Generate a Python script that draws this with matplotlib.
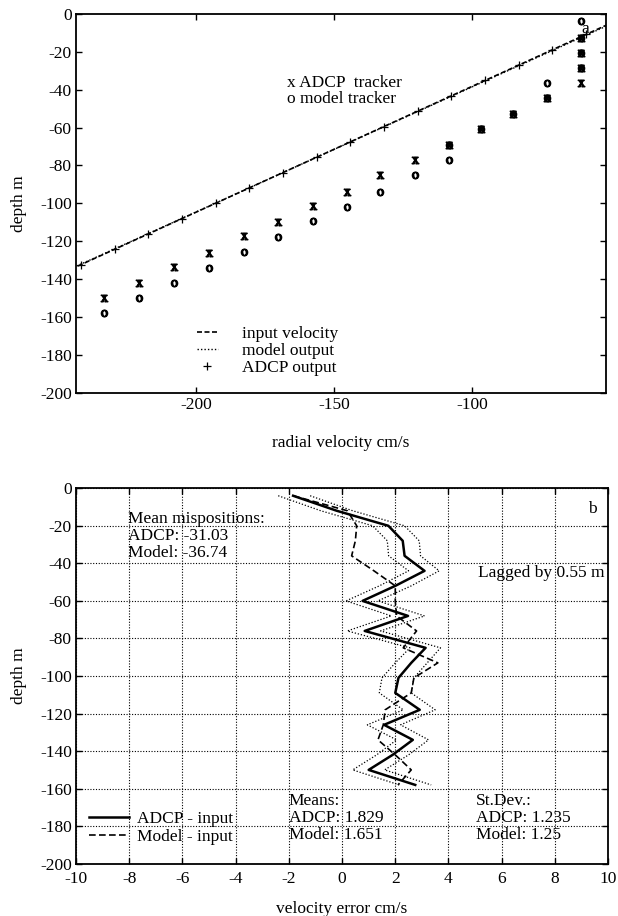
import matplotlib
matplotlib.use("Agg")
import matplotlib.pyplot as plt

plt.rcParams['font.family'] = 'serif'
plt.rcParams['font.serif'] = ['Liberation Serif', 'DejaVu Serif']
plt.rcParams['mathtext.fontset'] = 'stix'
plt.rcParams['axes.unicode_minus'] = False

# ---- panel a: radial velocity vs depth ----
input_vel = [-48.3, -245.0]
input_depth = [-4.0, -134.5]
model_vel = [-48.0, -245.0]
model_depth = [-4.3, -134.2]
adcp_vel = [-241.7, -229.5, -217.3, -205.1, -192.9, -180.7, -168.5, -156.3,
            -144.1, -131.9, -119.7, -107.5, -95.3, -83.1, -70.9, -58.7]
adcp_depth = [-132.4, -124.3, -116.2, -108.1, -100.0, -91.9, -83.8, -75.7,
              -67.6, -59.5, -51.4, -43.3, -35.2, -27.1, -19.0, -10.9]

# tracker positions (x = ADCP tracker, o = model tracker)
xtrk_vel = [-233.3, -220.7, -208.0, -195.2, -182.6, -170.2, -157.6, -145.4, -133.3,
            -120.7, -108.3, -96.7, -85.1, -72.9, -60.5, -60.5, -60.5, -60.5]
xtrk_depth = [-150.0, -141.8, -133.7, -126.0, -117.2, -109.6, -101.5, -93.8, -85.3,
              -77.4, -69.1, -60.9, -52.9, -44.5, -12.8, -20.8, -28.7, -36.6]
otrk_vel = [-233.3, -220.7, -208.0, -195.2, -182.6, -170.2, -157.6, -145.4, -133.3, -120.7,
            -108.3, -108.3, -96.7, -85.1, -72.9, -72.9, -60.5, -60.5, -60.5, -60.5]
otrk_depth = [-158.0, -150.0, -141.8, -133.9, -125.8, -117.5, -109.2, -101.7, -93.8, -85.3,
              -77.4, -69.1, -60.9, -52.9, -44.5, -36.6, -28.7, -20.8, -12.8, -4.0]

# ---- panel b: velocity error vs depth ----
err_depth = [-4, -12, -20, -28, -36, -44, -52, -60, -68, -76,
             -85, -93, -101, -109, -118, -126, -134, -142, -150, -158]
adcp_err = [-1.84, -0.2, 1.74, 2.28, 2.35, 3.1, 2.0, 0.77, 2.48, 0.85,
            3.14, 2.6, 2.12, 2.0, 2.92, 1.58, 2.66, 1.9, 1.0, 2.75]
model_err = [-1.84, 0.2, 0.55, 0.5, 0.36, 1.2, 2.0, 2.0, 2.05, 2.8,
             2.3, 3.6, 2.7, 2.6, 1.62, 1.55, 1.35, 2.0, 2.6, 2.1]
err_lo = [-2.4, -0.8, 1.15, 1.7, 1.75, 2.5, 1.4, 0.15, 1.85, 0.2,
          2.55, 2.0, 1.5, 1.4, 2.3, 0.95, 2.05, 1.3, 0.4, 2.15]
err_hi = [-1.2, 0.4, 2.35, 2.9, 2.95, 3.65, 2.6, 1.35, 3.1, 1.45,
          3.7, 3.2, 2.7, 2.6, 3.5, 2.2, 3.25, 2.5, 1.6, 3.35]

FS = 12.5
DOT = (0, (1, 1.5))

fig = plt.figure(figsize=(6.18, 9.16), dpi=100)
ax1 = fig.add_axes([0.123, 0.571, 0.858, 0.414])
ax2 = fig.add_axes([0.123, 0.057, 0.861, 0.410])

def style(ax):
    for s in ax.spines.values():
        s.set_linewidth(1.3)
    ax.tick_params(direction='in', top=True, right=True, length=4, width=1.0,
                   labelsize=FS, pad=3)

# panel a
ax1.plot(input_vel, input_depth, color='k', lw=1.2, ls=(0, (3, 1.5)), label='input velocity')
ax1.plot(model_vel, model_depth, color='k', lw=1.0, ls=DOT, label='model output')
ax1.plot(adcp_vel, adcp_depth, ls='none', marker='+', ms=6, mew=0.9, color='k', label='ADCP output')
ax1.plot(xtrk_vel, xtrk_depth, ls='none', marker=r'$\mathrm{x}$', ms=4.8, color='k')
ax1.plot(otrk_vel, otrk_depth, ls='none', marker=r'$\mathrm{o}$', ms=4.8, color='k')
ax1.set_xlim(-243.5, -51.4)
ax1.set_ylim(-200, 0)
ax1.set_xticks([-200, -150, -100])
ax1.set_yticks(range(-200, 1, 20))
style(ax1)
ax1.set_xlabel('radial velocity cm/s', fontsize=FS, labelpad=16)
ax1.set_ylabel('depth m', fontsize=FS, labelpad=9)
ax1.text(-167, -41, 'x ADCP  tracker\no model tracker', fontsize=FS,
         va='center', ha='left', linespacing=1.0)
ax1.text(-59, -8, 'a', fontsize=FS, ha='center', va='center')
ax1.legend(loc='lower left', bbox_to_anchor=(0.228, 0.045), frameon=False, fontsize=FS,
           handlelength=1.2, handletextpad=1.4, labelspacing=0.05, borderpad=0,
           borderaxespad=0)

# panel b
ax2.grid(True, color='k', ls=DOT, lw=0.8)
ax2.set_axisbelow(True)
ax2.plot(err_lo, err_depth, color='k', lw=0.9, ls=DOT)
ax2.plot(err_hi, err_depth, color='k', lw=0.9, ls=DOT)
ax2.plot(adcp_err, err_depth, color='k', lw=1.8, label='ADCP - input')
ax2.plot(model_err, err_depth, color='k', lw=1.2, ls=(0, (4, 2)), label='Model - input')
ax2.set_xlim(-10, 10)
ax2.set_ylim(-200, 0)
ax2.set_xticks(range(-10, 11, 2))
ax2.set_yticks(range(-200, 1, 20))
style(ax2)
ax2.tick_params(axis='x', pad=5)
ax2.set_xlabel('velocity error cm/s', fontsize=FS, labelpad=10)
ax2.set_ylabel('depth m', fontsize=FS, labelpad=9)
ax2.text(-8.05, -25.5, 'Mean mispositions:\nADCP: -31.03\nModel: -36.74', fontsize=FS,
         va='center', ha='left', linespacing=1.1)
ax2.text(9.85, -45.3, 'Lagged by 0.55 m', fontsize=FS, va='center', ha='right')
ax2.text(9.4, -11, 'b', fontsize=FS, va='center', ha='center')
ax2.text(-2.0, -175.5, 'Means:\nADCP: 1.829\nModel: 1.651', fontsize=FS,
         va='center', ha='left', linespacing=1.1)
ax2.text(5.04, -175.5, 'St.Dev.:\nADCP: 1.235\nModel: 1.25', fontsize=FS,
         va='center', ha='left', linespacing=1.1)
ax2.legend(loc='lower left', bbox_to_anchor=(0.024, 0.05), frameon=False, fontsize=FS,
           handlelength=2.3, handletextpad=0.5, labelspacing=0.1, borderpad=0,
           borderaxespad=0)

fig.savefig('out.png', dpi=100)
